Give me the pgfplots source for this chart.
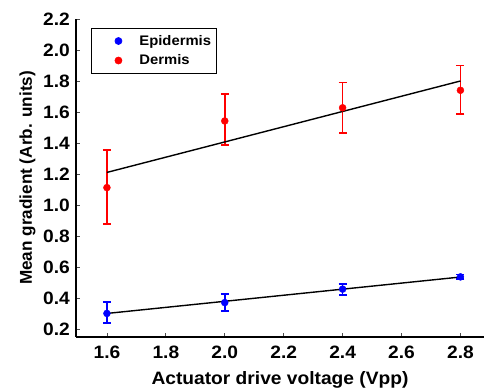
\documentclass[border=0pt]{standalone}
\usepackage{fontspec}
\setmainfont{Liberation Sans}[FakeStretch=1.07]
\newfontfamily\ylabfont{Liberation Sans}
\usepackage{pgfplots}
\pgfplotsset{compat=1.18}
\definecolor{myblue}{RGB}{0,0,255}
\definecolor{myred}{RGB}{255,0,0}
\pgfplotsset{mylegimg/.style={legend image code/.code={\path[draw=none,fill=none] (0bp,-4bp) (43bp,4bp);\draw[##1] plot coordinates {(24bp,0bp)};}}}
\begin{document}
\begin{tikzpicture}
\begin{axis}[
  scale only axis, width=408bp, height=318bp,
  xmin=1.495, xmax=2.88, ymin=0.148, ymax=2.2,
  axis x line=bottom, axis y line=left,
  axis line style={-, line width=1.6bp},
  xtick={1.6,1.8,2.0,2.2,2.4,2.6,2.8},
  ytick={0.2,0.4,0.6,0.8,1.0,1.2,1.4,1.6,1.8,2.0,2.2},
  tick align=inside, major tick length=4bp, tick style={line width=0.8bp, black!70},
  xticklabel={\pgfmathprintnumber[fixed, fixed zerofill, precision=1, assume math mode=true]{\tick}},
  yticklabel={\pgfmathprintnumber[fixed, fixed zerofill, precision=1, assume math mode=true]{\tick}},
  tick label style={font=\fontsize{18}{20}\selectfont\bfseries},
  xticklabel style={anchor=center, yshift=-15bp, inner sep=0pt},
  yticklabel style={anchor=east, xshift=-6bp, inner sep=0pt},
  xlabel={Actuator drive voltage (Vpp)},
  ylabel={Mean gradient (Arb. units)},
  xlabel style={font=\fontsize{18}{20}\selectfont\bfseries, at={(axis description cs:0.5,-0.1352)}, anchor=center},
  ylabel style={font=\fontsize{17.2}{19}\ylabfont\bfseries, at={(axis description cs:-0.1189,0.5)}, anchor=center},
  legend style={at={(rel axis cs:0.037,0.972)}, anchor=north west,
    font=\fontsize{13.9}{15}\selectfont\bfseries, draw=black, line width=0.7bp,
    inner xsep=3bp, inner ysep=5bp, row sep=4bp},
  legend cell align=left,
]
\addplot[only marks, mark=*, mark size=3.5bp, color=myblue, mylegimg,
  error bars/.cd, y dir=both, y explicit,
  error bar style={line width=1.7bp, color=myblue},
  error mark options={rotate=90, mark size=4bp, line width=1.7bp, color=myblue}]
  table[x=x, y=y, y error plus=ep, y error minus=em] {
x y ep em
1.6 0.300 0.075 0.060
2.0 0.370 0.055 0.055
2.4 0.457 0.035 0.037
2.8 0.536 0.015 0.015
};
\addlegendentry{Epidermis}
\addplot[only marks, mark=*, mark size=3.5bp, color=myred, mylegimg,
  error bars/.cd, y dir=both, y explicit,
  error bar style={line width=1.7bp, color=myred},
  error mark options={rotate=90, mark size=4bp, line width=1.7bp, color=myred}]
  table[x=x, y=y, y error plus=ep, y error minus=em] {
x y ep em
1.6 1.112 0.241 0.234
2.0 1.542 0.176 0.156
2.4 1.627 0.163 0.163
2.8 1.740 0.160 0.153
};
\addlegendentry{Dermis}
\addplot[black, line width=1.4bp, forget plot] coordinates {(1.6,1.21) (2.8,1.80)};
\addplot[black, line width=1.4bp, forget plot] coordinates {(1.6,0.300) (2.8,0.535)};
\end{axis}
\path (current axis.south west) ++(-76bp,-55bp) rectangle ++(485bp,392bp);
\end{tikzpicture}
\end{document}
